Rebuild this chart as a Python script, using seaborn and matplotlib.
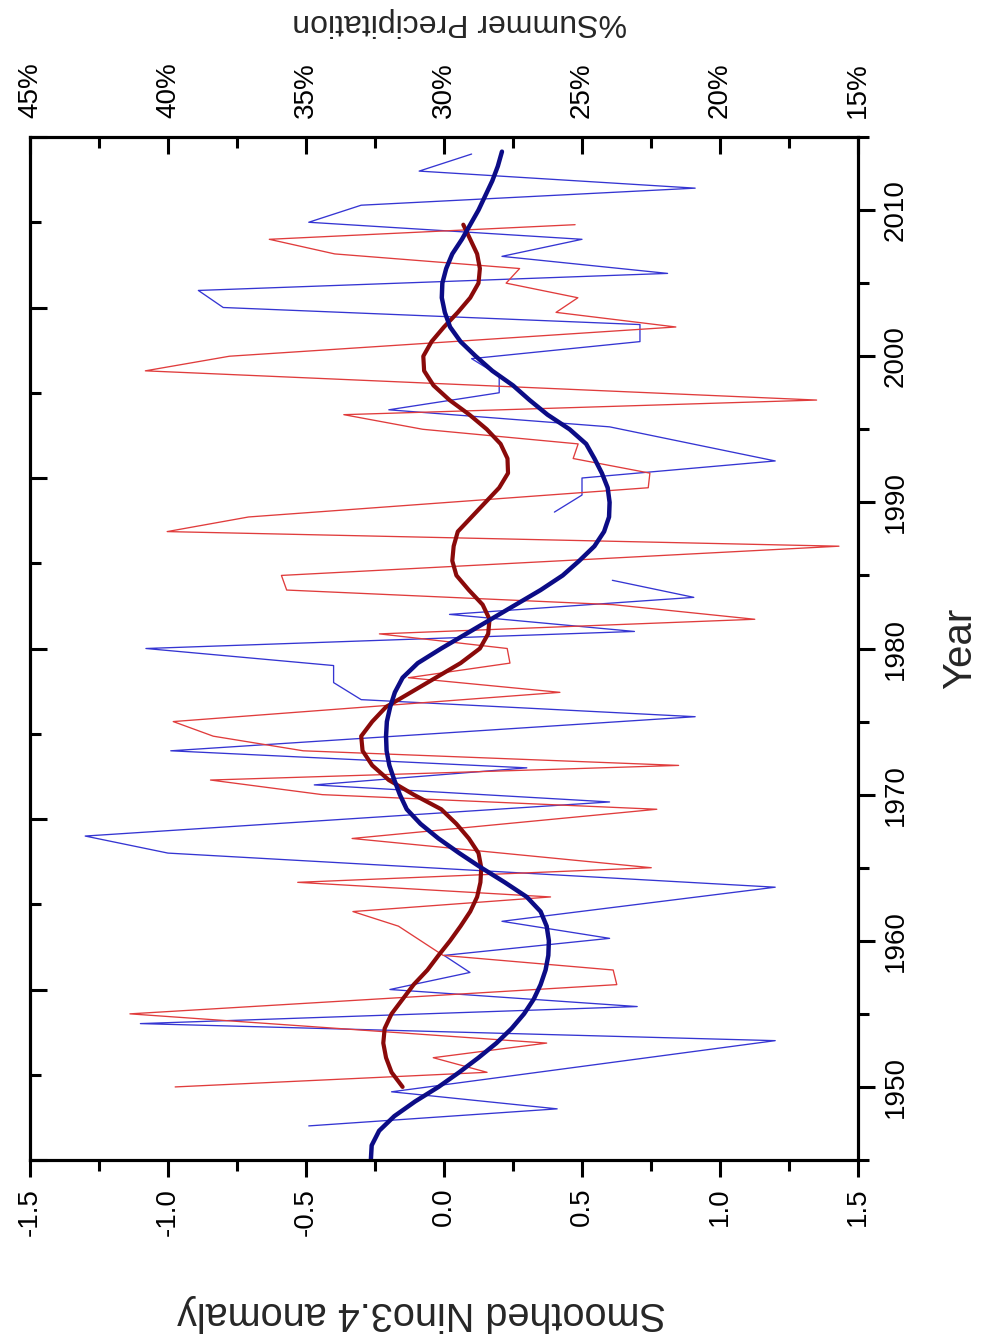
import numpy as np
import matplotlib
matplotlib.use("Agg")
import matplotlib.pyplot as plt
import seaborn as sns
from matplotlib.ticker import FixedLocator, FixedFormatter, MultipleLocator

sns.set_style("ticks")
plt.rcParams["font.family"] = ["Liberation Sans", "DejaVu Sans"]

# ---------------- data ----------------
# Smoothed Nino3.4 anomaly (main year axis)
nino_smooth_years = list(range(1945, 2015))
nino_smooth = [-0.265, -0.262, -0.235, -0.18, -0.105, -0.02, 0.055, 0.125, 0.19, 0.245,
               0.29, 0.325, 0.35, 0.368, 0.378, 0.38, 0.372, 0.35, 0.30, 0.22,
               0.135, 0.055, -0.02, -0.085, -0.135, -0.16, -0.18, -0.198, -0.208, -0.21,
               -0.207, -0.195, -0.178, -0.15, -0.095, -0.01, 0.08, 0.17, 0.26, 0.35,
               0.43, 0.49, 0.545, 0.58, 0.598, 0.60, 0.593, 0.572, 0.545, 0.515,
               0.455, 0.375, 0.31, 0.25, 0.175, 0.115, 0.06, 0.022, 0.003, -0.008,
               -0.006, 0.008, 0.03, 0.065, 0.095, 0.125, 0.15, 0.175, 0.195, 0.21]

# Smoothed %summer precipitation (main year axis)
precip_smooth_years = list(range(1950, 2010))
precip_smooth = [31.5, 31.9, 32.1, 32.2, 32.15, 31.9, 31.5, 31.1, 30.6, 30.2,
                 29.78, 29.4, 29.05, 28.8, 28.68, 28.65, 28.75, 29.1, 29.55, 30.1,
                 31.1, 32.0, 32.6, 32.95, 33.0, 32.6, 32.1, 31.2, 30.3, 29.4,
                 28.7, 28.4, 28.35, 28.6, 29.1, 29.55, 29.7, 29.65, 29.5, 29.0,
                 28.5, 28.0, 27.68, 27.7, 27.95, 28.45, 29.08, 29.8, 30.38, 30.72,
                 30.75, 30.45, 30.0, 29.5, 29.05, 28.75, 28.7, 28.8, 29.05, 29.3]

# Annual %summer precipitation (main year axis)
precip_years = [1950, 1951, 1952, 1953, 1955, 1957, 1958, 1959, 1961, 1962,
                1963, 1964, 1965, 1967, 1969, 1970, 1971, 1972, 1973, 1974,
                1975, 1977, 1978, 1979, 1980, 1981, 1982, 1983, 1984, 1985,
                1987, 1988, 1989, 1991, 1992, 1993, 1994, 1995, 1996, 1997,
                1999, 2000, 2002, 2003, 2004, 2005, 2006, 2007, 2008, 2009]
precip = [39.74, 28.44, 30.39, 26.28, 41.38, 23.74, 23.87, 30.03, 31.65, 33.3,
          26.14, 35.30, 22.49, 33.33, 22.29, 34.41, 38.46, 21.5, 35.1, 38.36,
          39.81, 25.80, 31.29, 27.61, 27.71, 32.34, 18.74, 23.87, 35.70, 35.89,
          15.69, 40.03, 37.08, 22.60, 22.54, 25.32, 25.14, 30.77, 33.63, 16.5,
          40.82, 37.77, 21.60, 25.94, 25.15, 27.75, 27.26, 33.96, 36.33, 25.25]

# Annual Nino3.4 anomaly (secondary year axis, 1950-2010), NaN = no data
nino_years = [1952, 1953, 1954, 1957, 1958, 1959, 1960, 1961, 1962, 1963,
              1964, 1966, 1968, 1969, 1971, 1972, 1973, 1974, 1976, 1977,
              1978, 1979, 1980, 1981, 1982, 1983, 1984, 1985, 1986, 1987,
              1988, 1989, 1990, 1991, 1993, 1994, 1995, 1996, 1997, 1998,
              1999, 2000, 2001, 2002, 2003, 2004, 2005, 2006, 2007, 2008, 2009]
nino = [-0.49, 0.41, -0.19, 1.20, -1.10, 0.70, -0.196, 0.094, 0.00, 0.60,
        0.21, 1.20, -1.00, -1.30, 0.60, -0.47, 0.30, -0.99, 0.91, -0.30,
        -0.40, -0.40, -1.08, 0.69, 0.02, 0.905, 0.61, np.nan, np.nan, np.nan,
        0.40, 0.50, 0.50, 1.20, 0.60, -0.20, 0.20, 0.20, 0.10, 0.71,
        0.71, -0.80, -0.89, 0.81, 0.21, 0.50, -0.49, -0.30, 0.91, -0.09, 0.10]

nino_ticks = [-1.5, -1.0, -0.5, 0.0, 0.5, 1.0, 1.5]
precip_ticks = [45, 40, 35, 30, 25, 20, 15]
year_ticks = [1950, 1960, 1970, 1980, 1990, 2000, 2010]

# ---------------- colours ----------------
C_NINO = "#3535d2"
C_NINO_S = "#0c0c86"
C_PR = "#e03c3c"
C_PR_S = "#8a0a0a"

# ---------------- figure ----------------
W, H = 984, 1342
L, R, T, B = 30, 858, 137, 1160
fig = plt.figure(figsize=(W / 100, H / 100), dpi=100, facecolor="white")
ax = fig.add_axes([L / W, 1 - B / H, (R - L) / W, (B - T) / H])
ax_n = ax.twinx()   # annual Nino3.4 on its own year scale
ax_p = ax.twiny()   # precipitation scale along the top

ax_n.set_zorder(1)
ax_p.set_zorder(2)
ax.set_zorder(3)
for a in (ax, ax_n, ax_p):
    a.patch.set_visible(False)

# annual Nino3.4 (split at the data gap)
nino_arr = np.array(nino, dtype=float)
yrs_arr = np.array(nino_years)
valid = ~np.isnan(nino_arr)
breaks = np.where(np.diff(valid.astype(int)) != 0)[0] + 1
for seg in np.split(np.arange(len(nino_arr)), breaks):
    seg = seg[valid[seg]]
    if len(seg) > 1:
        sns.lineplot(x=nino_arr[seg], y=yrs_arr[seg], ax=ax_n, color=C_NINO,
                     lw=0.95, sort=False, estimator=None, orient="y")

sns.lineplot(x=precip, y=precip_years, ax=ax_p, color=C_PR, lw=0.95,
             sort=False, estimator=None, orient="y")
sns.lineplot(x=precip_smooth, y=precip_smooth_years, ax=ax_p, color=C_PR_S, lw=3.0,
             sort=False, estimator=None, orient="y", solid_joinstyle="round")
sns.lineplot(x=nino_smooth, y=nino_smooth_years, ax=ax, color=C_NINO_S, lw=3.2,
             sort=False, estimator=None, orient="y", solid_joinstyle="round")

# ---------------- scales ----------------
ax.set_xlim(-1.5, 1.5)
ax.set_ylim(1945, 2015)
ax_n.set_ylim(1950, 2010)
ax_p.set_xlim(45, 15)
for a in (ax, ax_n, ax_p):
    a.set_xlabel("")
    a.set_ylabel("")
    for s in a.spines.values():
        s.set_linewidth(2.2)
        s.set_color("black")

TICK_KW = dict(width=2.2, color="black", labelcolor="black")

# bottom: Nino3.4 anomaly
ax.xaxis.set_major_locator(FixedLocator(nino_ticks))
ax.xaxis.set_major_formatter(FixedFormatter([f"{v:.1f}" for v in nino_ticks]))
ax.xaxis.set_minor_locator(MultipleLocator(0.25))
ax.tick_params(axis="x", which="both", bottom=True, top=False, labelbottom=True,
               labeltop=False, direction="out", **TICK_KW)
ax.tick_params(axis="x", which="major", length=12, labelsize=20, labelrotation=90, pad=8)
ax.tick_params(axis="x", which="minor", length=8)

# right: year
ax.yaxis.set_major_locator(FixedLocator(year_ticks))
ax.yaxis.set_major_formatter(FixedFormatter([str(y) for y in year_ticks]))
ax.yaxis.set_minor_locator(MultipleLocator(5))
ax.tick_params(axis="y", which="both", left=False, right=True, labelleft=False,
               labelright=True, direction="out", **TICK_KW)
ax.tick_params(axis="y", which="major", length=12, labelsize=20, labelrotation=90, pad=6)
ax.tick_params(axis="y", which="minor", length=8)
for lab in ax.get_yticklabels():
    lab.set_va("center")

# top: precipitation
ax_p.xaxis.set_major_locator(FixedLocator(precip_ticks))
ax_p.xaxis.set_major_formatter(FixedFormatter([f"{v}%" for v in precip_ticks]))
ax_p.xaxis.set_minor_locator(MultipleLocator(2.5))
ax_p.tick_params(axis="x", which="both", top=True, bottom=False, labeltop=True,
                 labelbottom=False, direction="in", **TICK_KW)
ax_p.tick_params(axis="x", which="major", length=12, labelsize=20, labelrotation=90, pad=14)
ax_p.tick_params(axis="x", which="minor", length=8)

# left: secondary year scale, inward ticks only
ax_n.yaxis.set_ticks_position("left")
ax_n.yaxis.set_major_locator(MultipleLocator(10))
ax_n.yaxis.set_minor_locator(MultipleLocator(5))
ax_n.tick_params(axis="y", which="both", left=True, right=False, labelleft=False,
                 labelright=False, direction="in", **TICK_KW)
ax_n.tick_params(axis="y", which="major", length=12)
ax_n.tick_params(axis="y", which="minor", length=8)

# ---------------- titles ----------------
fig.text(421 / W, 1 - 1313 / H, "Smoothed Nino3.4 anomaly", rotation=180,
         ha="center", va="center", fontsize=28.5)
fig.text(460 / W, 1 - 22 / H, "%Summer Precipitation", rotation=180,
         ha="center", va="center", fontsize=23)
fig.text(960 / W, 1 - 648 / H, "Year", rotation=90,
         ha="center", va="center", fontsize=29)

fig.savefig("out.png", dpi=100, facecolor="white")
